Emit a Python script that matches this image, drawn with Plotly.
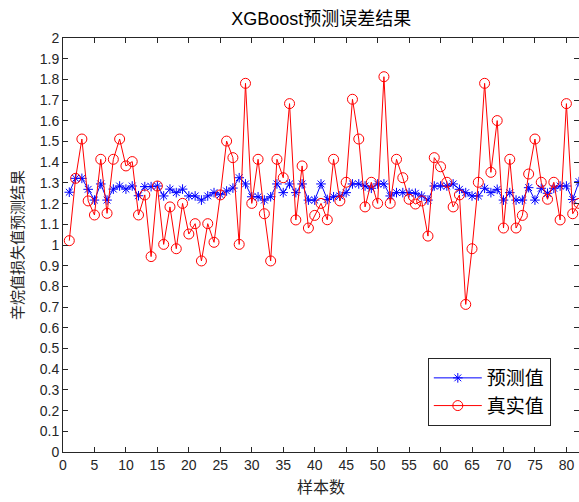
import plotly.graph_objects as go

samples = list(range(1, 83))
pred = [1.255, 1.322, 1.322, 1.269, 1.217, 1.295, 1.217, 1.270, 1.285, 1.270,
        1.285, 1.238, 1.282, 1.282, 1.285, 1.237, 1.270, 1.253, 1.270, 1.237,
        1.237, 1.217, 1.237, 1.253, 1.243, 1.261, 1.275, 1.325, 1.295, 1.233,
        1.233, 1.217, 1.233, 1.295, 1.253, 1.295, 1.253, 1.295, 1.217, 1.217,
        1.295, 1.220, 1.233, 1.237, 1.253, 1.295, 1.295, 1.285, 1.274, 1.295,
        1.295, 1.237, 1.253, 1.253, 1.253, 1.250, 1.237, 1.217, 1.285, 1.285,
        1.285, 1.295, 1.269, 1.253, 1.237, 1.237, 1.274, 1.253, 1.269, 1.217,
        1.253, 1.217, 1.217, 1.277, 1.217, 1.274, 1.250, 1.274, 1.285, 1.285,
        1.220, 1.306]
real = [1.021, 1.322, 1.512, 1.213, 1.145, 1.414, 1.153, 1.414, 1.512, 1.382,
        1.403, 1.145, 1.242, 0.944, 1.285, 1.003, 1.184, 0.982, 1.201, 1.053,
        1.103, 0.923, 1.103, 1.013, 1.242, 1.502, 1.422, 1.003, 1.781, 1.201,
        1.414, 1.151, 0.923, 1.414, 1.325, 1.683, 1.121, 1.382, 1.082, 1.143,
        1.201, 1.122, 1.414, 1.213, 1.303, 1.704, 1.512, 1.184, 1.303, 1.201,
        1.813, 1.201, 1.414, 1.325, 1.221, 1.198, 1.213, 1.043, 1.422, 1.378,
        1.303, 1.184, 1.242, 0.713, 0.982, 1.303, 1.781, 1.351, 1.601, 1.082,
        1.414, 1.082, 1.143, 1.343, 1.512, 1.303, 1.221, 1.303, 1.121, 1.683,
        1.151, 1.201]

x_ticks = list(range(0, 81, 5))
y_ticks = [round(i * 0.1, 1) for i in range(0, 21)]
y_tick_text = ["0" if v == 0 else ("1" if v == 1 else ("2" if v == 2 else f"{v:g}")) for v in y_ticks]

fig = go.Figure()
fig.add_trace(go.Scatter(
    x=samples, y=pred, mode="lines+markers", name="预测值",
    line=dict(color="#0000FF", width=1),
    marker=dict(symbol="asterisk-open", size=8, color="#0000FF",
                line=dict(color="#0000FF", width=1)),
))
fig.add_trace(go.Scatter(
    x=samples, y=real, mode="lines+markers", name="真实值",
    line=dict(color="#FF0000", width=1),
    marker=dict(symbol="circle-open", size=10, color="#FF0000",
                line=dict(color="#FF0000", width=1)),
))

axis_common = dict(
    showline=True, linecolor="#262626", linewidth=1, mirror="ticks",
    ticks="inside", ticklen=5, tickcolor="#262626", showgrid=False,
    zeroline=False, tickfont=dict(family="Liberation Sans, Arial", size=14, color="#262626"),
)

fig.update_layout(
    width=579, height=502,
    margin=dict(l=63, r=0, t=38, b=50),
    plot_bgcolor="white", paper_bgcolor="white",
    title=dict(text="XGBoost预测误差结果", x=0.555, xanchor="center", y=0.962, yanchor="middle",
               font=dict(family="Liberation Sans, Noto Sans CJK SC", size=18, color="black")),
    xaxis=dict(range=[0, 82], tickvals=x_ticks, **axis_common,
               title=dict(text="样本数", standoff=10,
                          font=dict(family="Noto Sans CJK SC", size=16, color="#262626"))),
    yaxis=dict(range=[0, 2], tickvals=y_ticks, ticktext=y_tick_text, **axis_common,
               title=dict(text="辛烷值损失值预测结果", standoff=12,
                          font=dict(family="Noto Sans CJK SC", size=15, color="#262626"))),
    legend=dict(x=0.707, y=0.227, xanchor="left", yanchor="top",
                bordercolor="#262626", borderwidth=1, bgcolor="white",
                font=dict(family="Noto Sans CJK SC", size=19, color="black"),
                itemwidth=48, tracegroupgap=0),
    showlegend=True,
)

fig.write_html("out.html")
